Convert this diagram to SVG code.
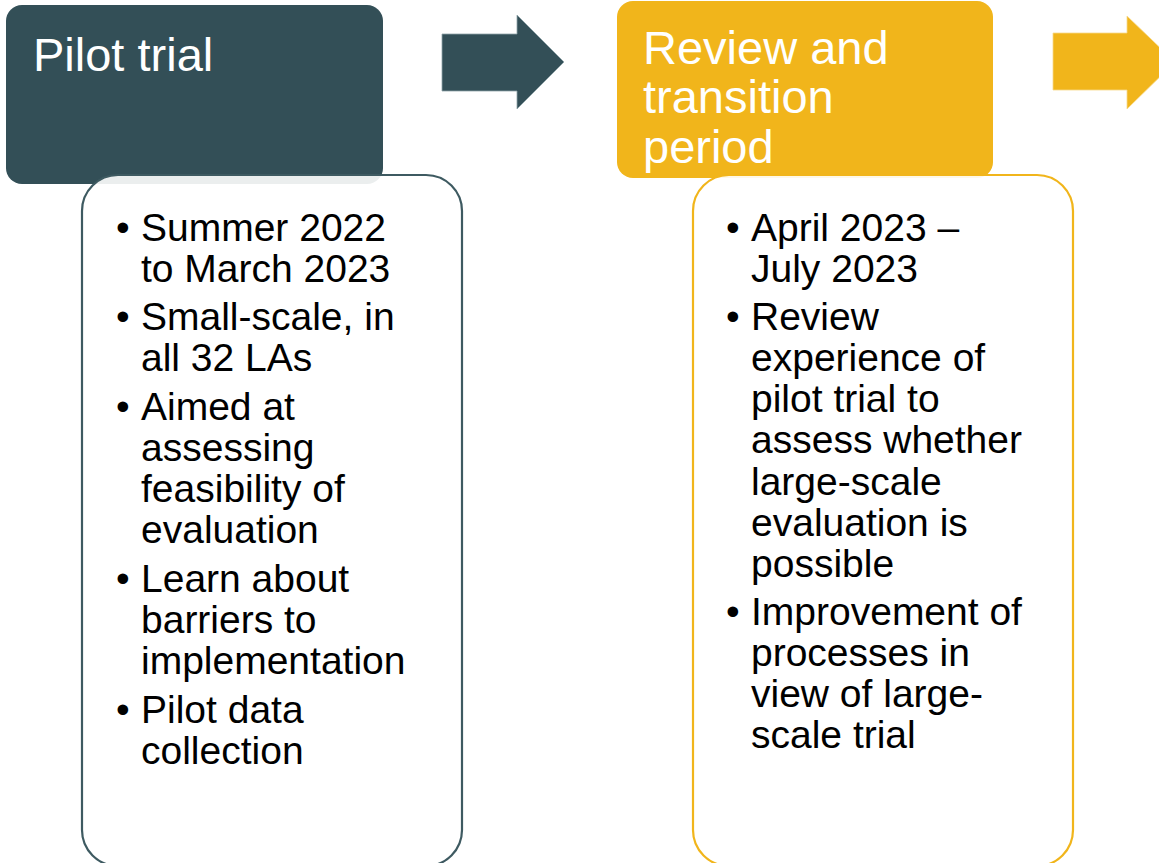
<svg xmlns="http://www.w3.org/2000/svg" width="1159" height="863" viewBox="0 0 1159 863">
  <style>
    .title { font-family: "Liberation Sans", Arial, sans-serif; font-size: 47px; fill: #ffffff; }
    .body { font-family: "Liberation Sans", Arial, sans-serif; font-size: 39px; fill: #000000; }
    .dark { fill: #334F57; }
    .gold { fill: #F1B51B; }
    .card { fill: #ffffff; fill-opacity: 0.9; stroke-width: 2.2; }
  </style>
  <rect width="1159" height="863" fill="#ffffff"/>

  <g id="pilot-header">
    <rect class="dark" x="6" y="5" width="377" height="179" rx="16" ry="16"/>
    <text class="title" x="33" y="71">Pilot trial</text>
  </g>

  <g id="pilot-card">
    <rect class="card" x="82" y="175" width="380" height="691" rx="36" ry="36" stroke="#3E5A61"/>
    <text class="body">
      <tspan x="116" y="241">•</tspan><tspan x="141" y="241">Summer 2022</tspan>
      <tspan x="141" y="282">to March 2023</tspan>
      <tspan x="116" y="330">•</tspan><tspan x="141" y="330">Small-scale, in</tspan>
      <tspan x="141" y="371">all 32 LAs</tspan>
      <tspan x="116" y="420">•</tspan><tspan x="141" y="420">Aimed at</tspan>
      <tspan x="141" y="461">assessing</tspan>
      <tspan x="141" y="502">feasibility of</tspan>
      <tspan x="141" y="543">evaluation</tspan>
      <tspan x="116" y="592">•</tspan><tspan x="141" y="592">Learn about</tspan>
      <tspan x="141" y="633">barriers to</tspan>
      <tspan x="141" y="674">implementation</tspan>
      <tspan x="116" y="723">•</tspan><tspan x="141" y="723">Pilot data</tspan>
      <tspan x="141" y="764">collection</tspan>
    </text>
  </g>

  <g id="review-header">
    <rect class="gold" x="617" y="1" width="376" height="177" rx="16" ry="16"/>
    <text class="title">
      <tspan x="643" y="64">Review and</tspan>
      <tspan x="643" y="113">transition</tspan>
      <tspan x="643" y="163">period</tspan>
    </text>
  </g>

  <g id="review-card">
    <rect class="card" x="693" y="175" width="380" height="691" rx="36" ry="36" stroke="#F1B51B"/>
    <text class="body">
      <tspan x="726" y="241">•</tspan><tspan x="751" y="241">April 2023 –</tspan>
      <tspan x="751" y="282">July 2023</tspan>
      <tspan x="726" y="330">•</tspan><tspan x="751" y="330">Review</tspan>
      <tspan x="751" y="371">experience of</tspan>
      <tspan x="751" y="412">pilot trial to</tspan>
      <tspan x="751" y="453">assess whether</tspan>
      <tspan x="751" y="495">large-scale</tspan>
      <tspan x="751" y="536">evaluation is</tspan>
      <tspan x="751" y="577">possible</tspan>
      <tspan x="726" y="625">•</tspan><tspan x="751" y="625">Improvement of</tspan>
      <tspan x="751" y="666">processes in</tspan>
      <tspan x="751" y="707">view of large-</tspan>
      <tspan x="751" y="748">scale trial</tspan>
    </text>
  </g>

  <g id="connectors">
    <polygon class="dark" points="442,34 517,34 517,15 564,62 517,109 517,91 442,91" stroke="#8FA3A8" stroke-width="0.8"/>
    <polygon class="gold" points="1053,33 1127,33 1127,16 1175,62 1127,109 1127,90 1053,90" stroke="#F7D98A" stroke-width="0.8"/>
  </g>
</svg>
